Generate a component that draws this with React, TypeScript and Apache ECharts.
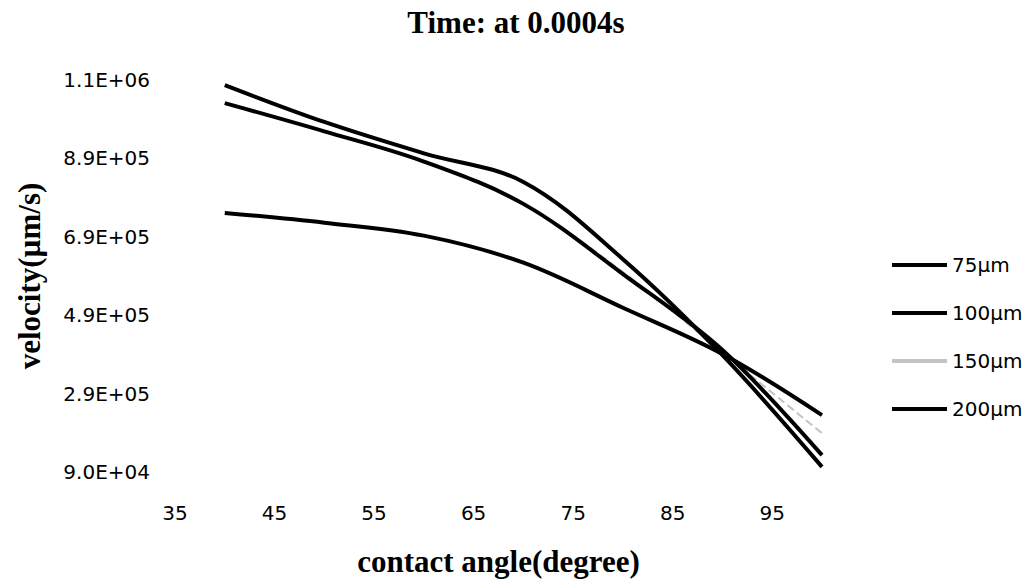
import React, { useEffect, useRef } from "react";
import * as echarts from "echarts";

const angles = [40, 50, 60, 70, 80, 90, 100];
const v75 = [1077000, 983000, 903000, 830000, 633000, 388000, 103000];
const v100 = [1031000, 959000, 882000, 774000, 595000, 401000, 133000];
const v150 = [1031000, 959000, 882000, 774000, 600000, 395000, 189000];
const v200 = [751000, 726000, 693000, 624000, 509000, 391000, 235000];
const seriesNames = ["75µm", "100µm", "150µm", "200µm"];
const xTicks = [35, 45, 55, 65, 75, 85, 95];
const yTicks = [90000, 290000, 490000, 690000, 890000, 1090000];

const fmt = (v: number) => {
  const [m, e] = v.toExponential(1).split("e");
  const n = parseInt(e, 10);
  return m + "E" + (n < 0 ? "-" : "+") + String(Math.abs(n)).padStart(2, "0");
};

export default function App() {
  const ref = useRef<HTMLDivElement>(null);
  useEffect(() => {
    if (!ref.current) return;
    const chart = echarts.init(ref.current, undefined, { renderer: "svg" });
    const pair = (vals: number[]) => angles.map((a, i) => [a, vals[i]]);
    const lineSeries = (name: string, vals: number[], color: string, width: number, z: number, type = "solid") => ({
      name,
      type: "line",
      data: pair(vals),
      smooth: 0.35,
      symbol: "none",
      z,
      lineStyle: { color, width, type },
      itemStyle: { color },
    });
    chart.setOption({
      animation: false,
      backgroundColor: "#ffffff",
      title: {
        text: "Time: at 0.0004s",
        left: 511,
        top: 2,
        textAlign: "center",
        textStyle: { fontFamily: "Liberation Serif", fontWeight: "bold", fontSize: 31, color: "#000" },
      },
      grid: { left: 175, right: 212, top: 80, bottom: 114 },
      legend: {
        orient: "vertical",
        left: 887,
        top: 250,
        icon: "rect",
        itemWidth: 55,
        itemHeight: 4,
        itemGap: 28,
        data: seriesNames,
        textStyle: { fontFamily: "DejaVu Sans", fontSize: 20, color: "#000", lineHeight: 20 },
      },
      xAxis: {
        type: "value",
        min: 35,
        max: 100,
        name: "contact angle(degree)",
        nameLocation: "middle",
        nameGap: 74,
        nameTextStyle: { fontFamily: "Liberation Serif", fontWeight: "bold", fontSize: 31, color: "#000" },
        axisLine: { show: false },
        axisTick: { show: false },
        splitLine: { show: false },
        axisLabel: {
          customValues: xTicks,
          margin: 31,
          fontFamily: "DejaVu Sans",
          fontSize: 20,
          color: "#000",
        },
      },
      yAxis: {
        type: "value",
        min: 90000,
        max: 1090000,
        name: "velocity(µm/s)",
        nameLocation: "middle",
        nameGap: 130,
        nameTextStyle: { fontFamily: "Liberation Serif", fontWeight: "bold", fontSize: 31, color: "#000" },
        axisLine: { show: false },
        axisTick: { show: false },
        splitLine: { show: false },
        axisLabel: {
          customValues: yTicks,
          margin: 25,
          formatter: (v: number) => fmt(v),
          fontFamily: "DejaVu Sans",
          fontSize: 20,
          color: "#000",
        },
      },
      series: [
        lineSeries(seriesNames[0], v75, "#000000", 4, 3),
        lineSeries(seriesNames[1], v100, "#000000", 4, 3),
        lineSeries(seriesNames[2], v150, "#c4c4c4", 2, 1, "dashed"),
        lineSeries(seriesNames[3], v200, "#000000", 4, 3),
      ],
    });
    return () => chart.dispose();
  }, []);
  return <div ref={ref} style={{ position: "fixed", left: 0, top: 0, width: 1034, height: 586 }} />;
}
